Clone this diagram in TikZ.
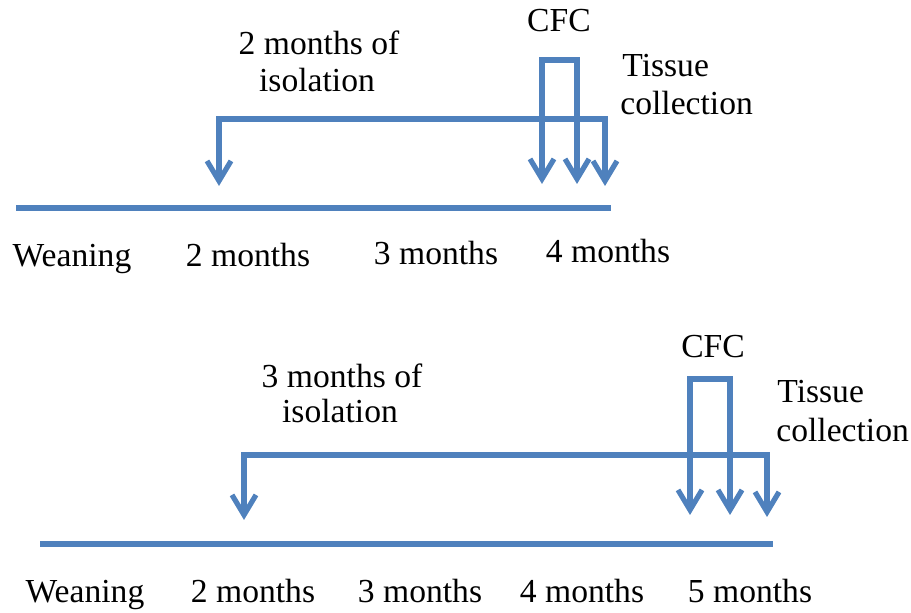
\documentclass[tikz,border=0pt]{standalone}
\usepackage{fontspec}
\setmainfont{Liberation Serif}
\usetikzlibrary{arrows.meta}
\definecolor{lineblue}{HTML}{4F81BD}

\begin{document}
\begin{tikzpicture}[x=0.5pt,y=-0.5pt,>={Straight Barb[length=10pt,width=12pt]},
    line/.style={lineblue,line width=2.6pt},
    lab/.style={anchor=base,inner sep=0pt,font=\fontsize{16.8}{20}\selectfont},
    labw/.style={lab,anchor=base west}]
    \useasboundingbox (0,0) rectangle (911,613);
    % 2 months of isolation
    \begin{scope}
        \coordinate (ta) at (16,208);
        \coordinate (tb) at (611,208);
        \draw[line] (ta) -- (tb);
        \foreach \x/\y/\lab in {72/267/Weaning,248/267/2 months,436/265/3 months,608/263/4 months}{
            \node[lab] (tl\x) at (\x,\y) {\lab};
        }
        \coordinate (ti0) at (219,186);
        \coordinate (ti1) at (219,119);
        \coordinate (ti2) at (605,119);
        \coordinate (ti3) at (605,186);
        \draw[line,<->] (ti0) -- (ti1) -- (ti2) -- (ti3);
        \coordinate (tc0) at (542,184);
        \coordinate (tc1) at (542,60);
        \coordinate (tc2) at (577,60);
        \coordinate (tc3) at (577,184);
        \draw[line,<->] (tc0) -- (tc1) -- (tc2) -- (tc3);
        \node[lab] (tiso) at (319,55) {2 months of};
        \node[lab] (tiso2) at (317,92) {isolation};
        \node[lab] (tcfc) at (559,32) {CFC};
        \node[labw] (ttis) at (622,77) {Tissue};
        \node[labw] (tcol) at (620,115) {collection};
    \end{scope}
    % 3 months of isolation
    \begin{scope}
        \coordinate (ba) at (40,544);
        \coordinate (bb) at (773,544);
        \draw[line] (ba) -- (bb);
        \foreach \x/\lab in {85/Weaning,253/2 months,420/3 months,582/4 months,750/5 months}{
            \node[lab] (bl\x) at (\x,603) {\lab};
        }
        \coordinate (bi0) at (244,520);
        \coordinate (bi1) at (244,455);
        \coordinate (bi2) at (767,455);
        \coordinate (bi3) at (767,517);
        \draw[line,<->] (bi0) -- (bi1) -- (bi2) -- (bi3);
        \coordinate (bc0) at (690,515);
        \coordinate (bc1) at (690,379);
        \coordinate (bc2) at (730,379);
        \coordinate (bc3) at (730,515);
        \draw[line,<->] (bc0) -- (bc1) -- (bc2) -- (bc3);
        \node[lab] (biso) at (342,388) {3 months of};
        \node[lab] (biso2) at (340,423) {isolation};
        \node[lab] (bcfc) at (713,358) {CFC};
        \node[labw] (btis) at (777,403) {Tissue};
        \node[labw] (bcol) at (776,442) {collection};
    \end{scope}
\end{tikzpicture}
\end{document}
